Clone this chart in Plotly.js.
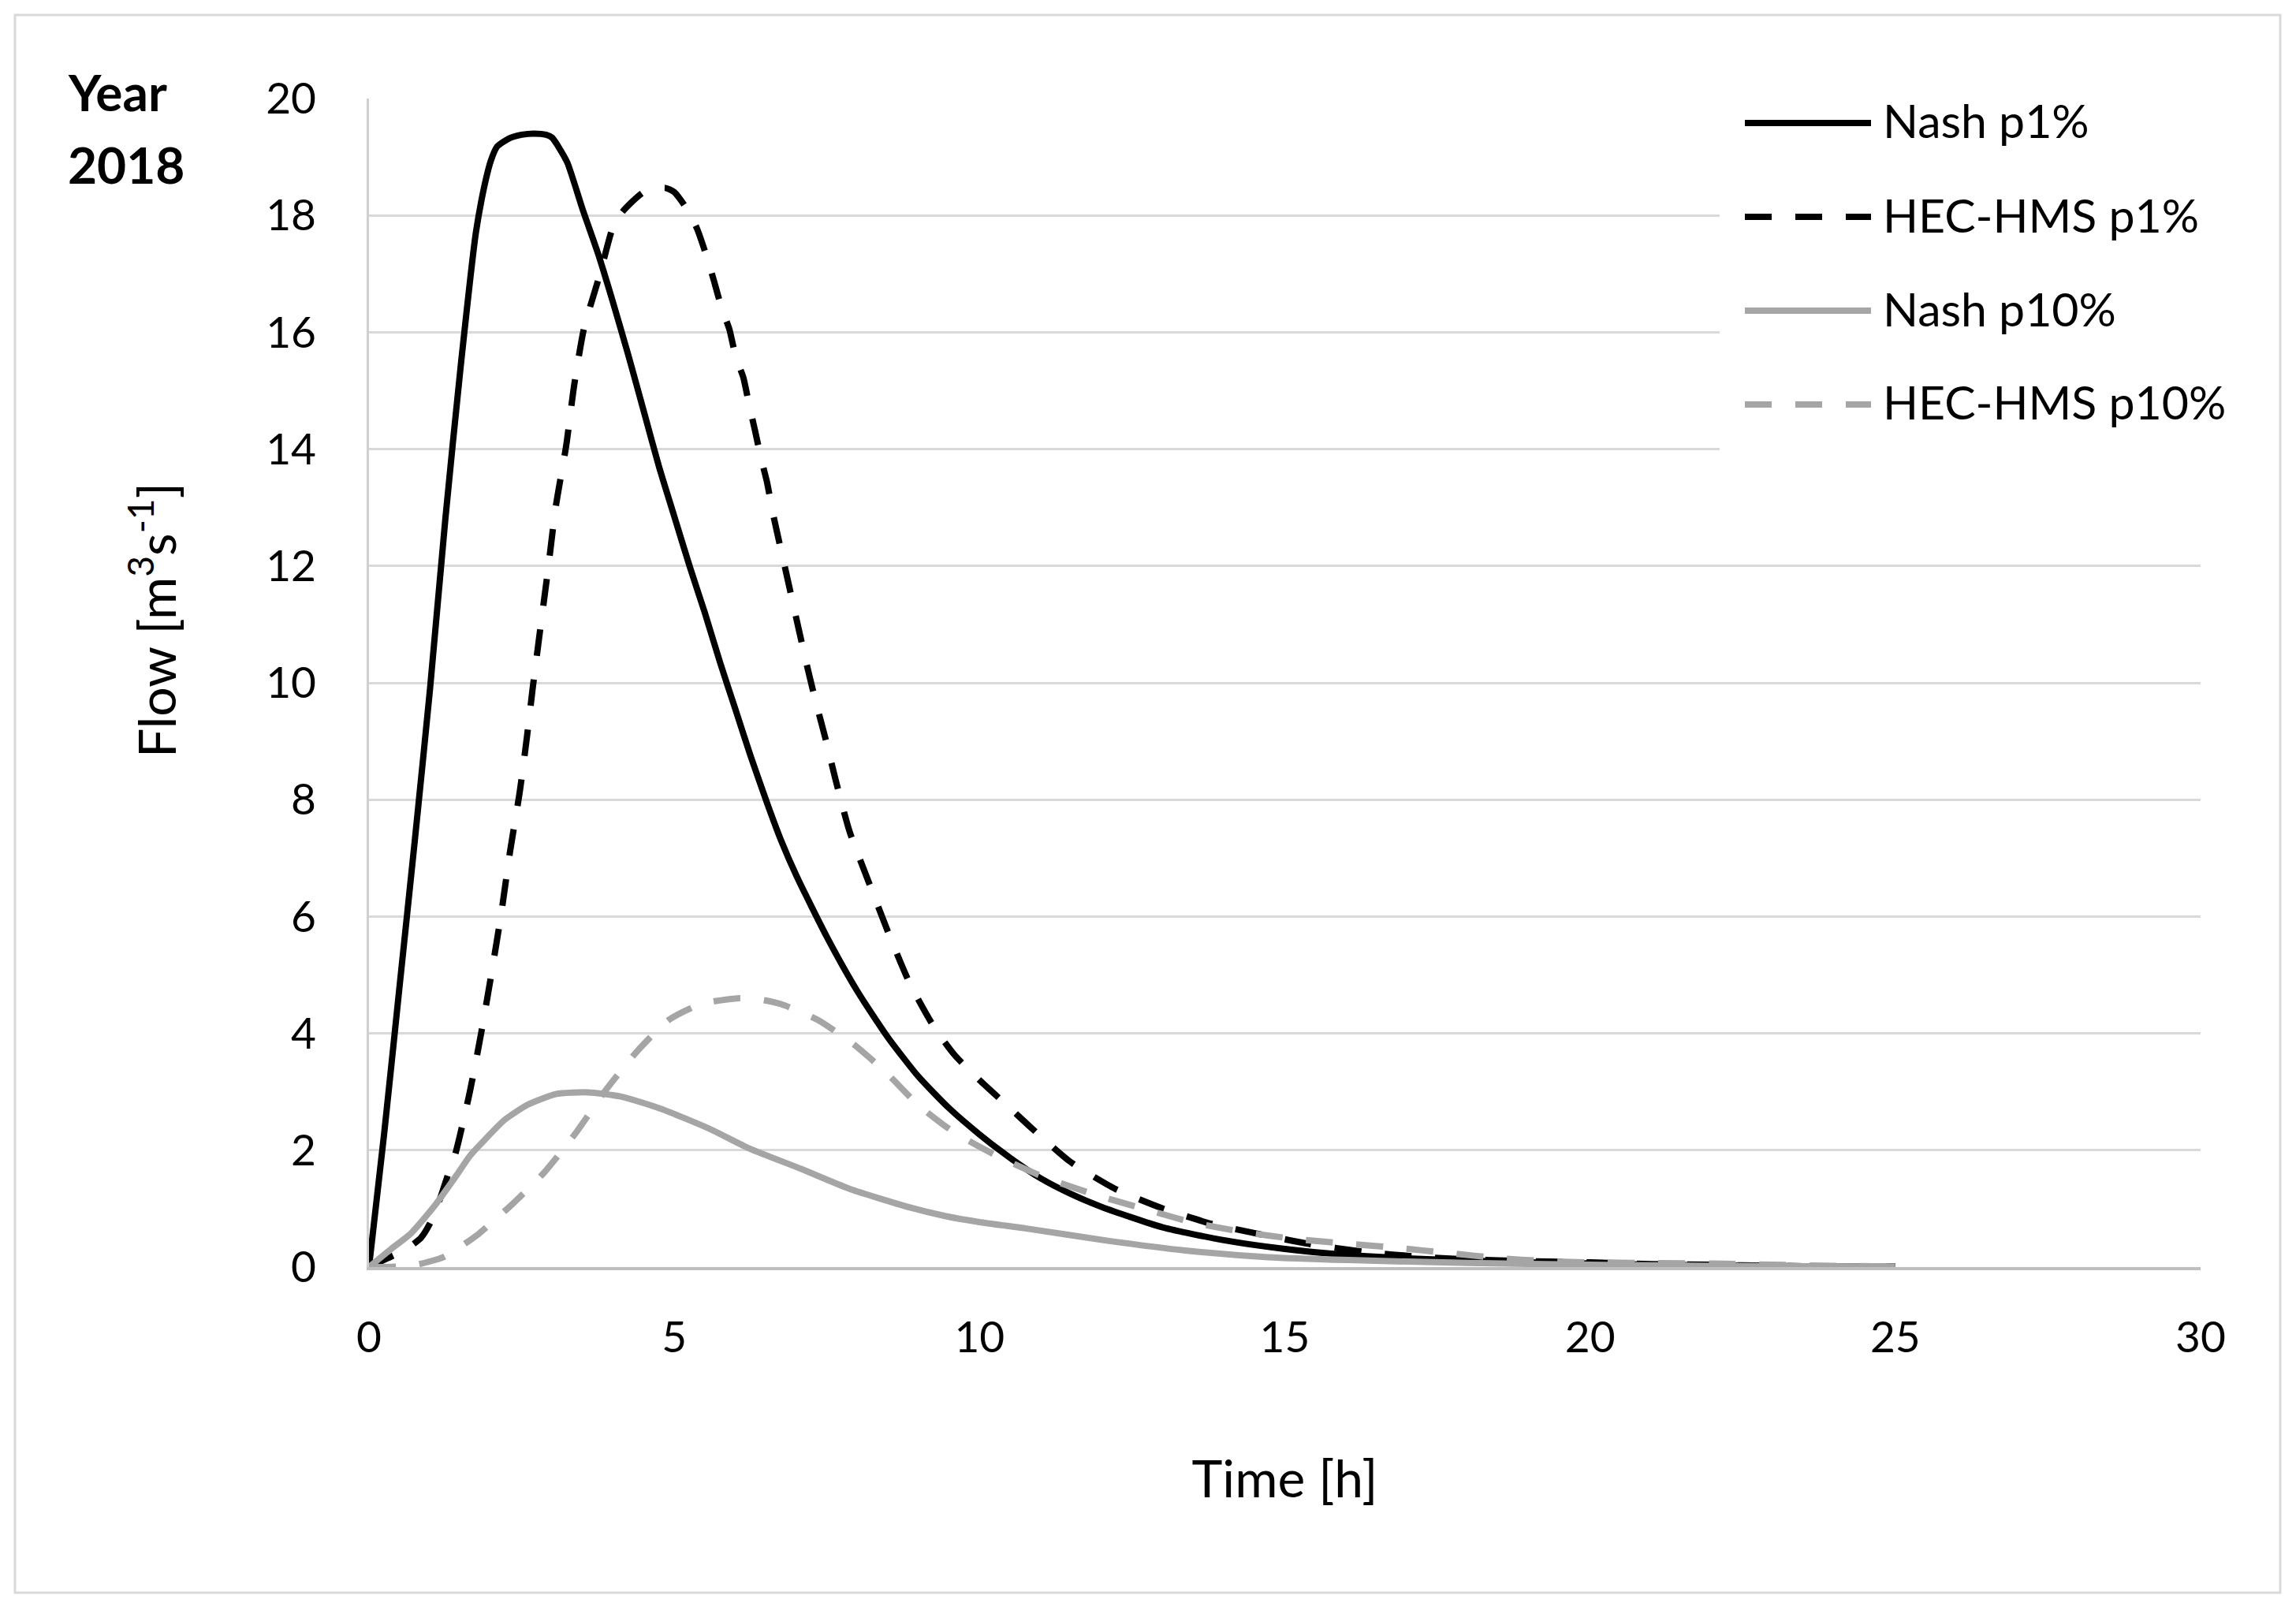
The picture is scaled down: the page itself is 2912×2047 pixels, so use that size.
<!DOCTYPE html>
<html>
<head>
<meta charset="utf-8">
<script src="https://cdn.plot.ly/plotly-3.0.1.min.js"></script>
<style>html,body{margin:0;padding:0;background:#fff;}#chart{width:2912px;height:2047px;}</style>
</head>
<body>
<div id="chart"></div>
<script>
// ---- data ----
const seriesNames = ["Nash p1%", "HEC-HMS p1%", "Nash p10%", "HEC-HMS p10%"];

const nashP1Time = [0,0.25,0.5,0.75,1.0,1.25,1.5,1.75,1.9,2.0,2.1,2.3,2.5,2.7,2.9,3.0,3.1,3.25,3.5,3.75,4.0,4.25,4.5,4.75,5.0,5.25,5.5,5.75,6.0,6.25,6.5,6.75,7.0,7.5,8.0,8.5,9.0,9.5,10.0,10.5,11.0,11.5,12.0,13.0,14.0,15.0,16.0,17.0,18.0,19.0,20.0,21.0,22.0,23.0,24.0,25.0];
const nashP1Flow = [0,2.3,4.8,7.3,9.9,12.8,15.4,17.7,18.55,18.95,19.18,19.32,19.38,19.4,19.38,19.33,19.18,18.9,18.1,17.35,16.5,15.6,14.65,13.7,12.85,12.0,11.2,10.35,9.55,8.75,8.0,7.3,6.7,5.65,4.72,3.93,3.26,2.72,2.27,1.87,1.52,1.25,1.03,0.68,0.46,0.31,0.21,0.15,0.11,0.08,0.06,0.04,0.03,0.02,0.01,0.01];

const hecP1Time = [0,0.3,0.6,0.85,1.0,1.15,1.3,1.42,1.65,1.84,2.01,2.17,2.31,2.47,2.59,2.68,2.8,2.93,3.06,3.23,3.36,3.52,3.79,3.99,4.15,4.5,4.85,5.0,5.2,5.37,5.53,5.65,5.78,5.9,6.01,6.13,6.23,6.32,6.42,6.52,6.62,6.87,7.15,7.3,7.5,7.64,7.87,8.17,8.5,8.86,9.26,9.6,10.0,10.5,10.83,11.49,12.22,13.01,13.8,14.65,15.38,16.3,17.16,18.0,19.0,20.0,21.0,22.0,23.0,24.0,25.0];
const hecP1Flow = [0,0.15,0.3,0.5,0.75,1.13,1.6,1.96,2.99,4.02,5.05,6.08,7.11,8.14,9.1,9.9,10.88,11.92,13.02,14.06,15.09,16.06,17.02,17.78,18.06,18.4,18.47,18.4,18.12,17.78,17.3,16.88,16.4,16.06,15.57,15.23,14.74,14.33,13.85,13.43,12.88,11.71,10.4,9.75,8.95,8.35,7.46,6.63,5.74,4.85,4.1,3.62,3.2,2.72,2.4,1.8,1.34,1.0,0.74,0.55,0.4,0.26,0.18,0.13,0.1,0.08,0.05,0.04,0.02,0.01,0.01];

const nashP10Time = [0,0.35,0.69,1.09,1.42,1.65,1.88,2.21,2.6,3.06,3.59,4.12,4.78,5.57,6.23,7.08,7.87,8.86,9.45,10.0,10.77,12.1,13.4,14.72,16.04,18.0,20.0,22.0,25.0];
const nashP10Flow = [0,0.3,0.58,1.07,1.55,1.9,2.16,2.51,2.78,2.96,2.99,2.92,2.71,2.37,2.03,1.68,1.34,1.02,0.87,0.77,0.66,0.45,0.28,0.17,0.12,0.07,0.04,0.02,0.01];

const hecP10Time = [0,0.5,0.82,1.22,1.5,1.81,2.34,2.87,3.39,3.85,4.38,4.91,5.43,6.03,6.4,6.75,7.35,7.94,8.47,8.99,9.59,10.31,11.03,11.89,12.68,13.47,14.32,15.18,16.04,16.83,17.68,18.54,19.33,20.0,21.0,22.0,23.0,24.0,25.0];
const hecP10Flow = [0,0.01,0.05,0.17,0.35,0.58,1.07,1.62,2.3,2.99,3.68,4.23,4.5,4.6,4.58,4.5,4.23,3.81,3.33,2.78,2.3,1.89,1.55,1.24,1.0,0.77,0.6,0.48,0.4,0.33,0.24,0.15,0.1,0.08,0.07,0.06,0.04,0.02,0.01];

const yTickVals = [0,2,4,6,8,10,12,14,16,18,20];
const xTickVals = [0,5,10,15,20,25,30];
const panelTitle = ["Year", "2018"];
const xTitle = "Time [h]";
const yTitle = "Flow [m<sup>3</sup>s<sup>-1</sup>]";

// ---- styles ----
const FONT = "Lato, 'Open Sans', sans-serif";
const styles = [
  {color: "#000000", dash: "solid"},
  {color: "#000000", dash: "34px,30px"},
  {color: "#A5A5A5", dash: "solid"},
  {color: "#A5A5A5", dash: "34px,30px"}
];
const LW = 8;

const xs = [nashP1Time, hecP1Time, nashP10Time, hecP10Time];
const ys = [nashP1Flow, hecP1Flow, nashP10Flow, hecP10Flow];

const traces = seriesNames.map((n, i) => ({
  type: "scatter", mode: "lines", name: n,
  x: xs[i], y: ys[i],
  line: {color: styles[i].color, width: LW, dash: styles[i].dash, shape: "spline", smoothing: 0.6},
  showlegend: false, hoverinfo: "skip"
}));

// pixel helpers (plot area: left 468, right 2791, top 125, bottom 1607)
const L = 468, R = 2791, T = 125, B = 1607;
const px2x = p => (p - L) / (R - L);
const px2y = p => (B - p) / (B - T);

const shapes = [
  {type: "rect", xref: "paper", yref: "paper", x0: px2x(19), x1: px2x(2892), y0: px2y(2020), y1: px2y(19),
   line: {color: "#D9D9D9", width: 3}, fillcolor: "rgba(0,0,0,0)", layer: "below"},
  {type: "rect", xref: "paper", yref: "paper", x0: px2x(2181), x1: px2x(2870), y0: px2y(590), y1: px2y(95),
   line: {width: 0}, fillcolor: "#FFFFFF", layer: "above"}
];
const legendRows = [156, 275, 394, 513];
const annotations = [];
seriesNames.forEach((n, i) => {
  shapes.push({type: "line", xref: "paper", yref: "paper",
    x0: px2x(2213), x1: px2x(2373), y0: px2y(legendRows[i]), y1: px2y(legendRows[i]),
    line: {color: styles[i].color, width: LW, dash: styles[i].dash}, layer: "above"});
  annotations.push({xref: "paper", yref: "paper", x: px2x(2386), y: px2y(legendRows[i] - 3),
    xanchor: "left", yanchor: "middle", showarrow: false, text: n,
    font: {family: FONT, size: 59, color: "#000000"}});
});
annotations.push({xref: "paper", yref: "paper", x: px2x(84), y: px2y(117), xanchor: "left", yanchor: "middle",
  showarrow: false, text: "<b>" + panelTitle[0] + "</b>", font: {family: FONT, size: 64, color: "#000000"}});
annotations.push({xref: "paper", yref: "paper", x: px2x(84), y: px2y(208), xanchor: "left", yanchor: "middle",
  showarrow: false, text: "<b>" + panelTitle[1] + "</b>", font: {family: FONT, size: 64, color: "#000000"}});
annotations.push({xref: "paper", yref: "paper", x: px2x(193), y: px2y(787), xanchor: "center", yanchor: "middle",
  showarrow: false, textangle: -90, text: yTitle, font: {family: FONT, size: 66, color: "#000000"}});

const layout = {
  width: 2912, height: 2047,
  margin: {l: L, r: 2912 - R, t: T, b: 2047 - B, pad: 0},
  paper_bgcolor: "#FFFFFF", plot_bgcolor: "#FFFFFF",
  font: {family: FONT, color: "#000000"},
  showlegend: false,
  xaxis: {
    range: [0, 30], tickvals: xTickVals, ticktext: xTickVals.map(String),
    showgrid: false, zeroline: false,
    showline: true, linecolor: "#BFBFBF", linewidth: 4,
    ticks: "", ticklabelstandoff: 38,
    tickfont: {family: FONT, size: 55, color: "#000000"},
    title: {text: xTitle, font: {family: FONT, size: 66, color: "#000000"}, standoff: 128},
    fixedrange: true
  },
  yaxis: {
    range: [0, 20], tickvals: yTickVals, ticktext: yTickVals.map(String),
    showgrid: true, gridcolor: "#D9D9D9", gridwidth: 3,
    zeroline: false,
    showline: true, linecolor: "#D0D0D0", linewidth: 3,
    ticks: "", ticklabelstandoff: 53,
    tickfont: {family: FONT, size: 55, color: "#000000"},
    fixedrange: true
  },
  shapes: shapes,
  annotations: annotations
};

Plotly.newPlot("chart", traces, layout, {staticPlot: true, displayModeBar: false});
</script>
</body>
</html>
